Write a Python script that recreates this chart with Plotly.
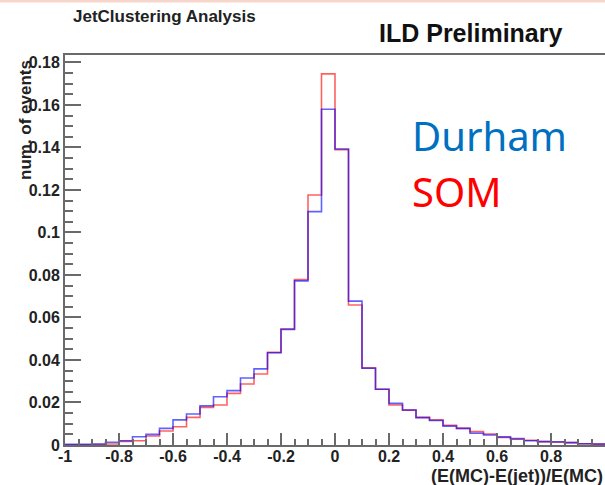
import plotly.graph_objects as go

# ---- data ----
bin_edges = [-1.0, -0.95, -0.9, -0.85, -0.8, -0.75, -0.7, -0.65, -0.6, -0.55,
             -0.5, -0.45, -0.4, -0.35, -0.3, -0.25, -0.2, -0.15, -0.1, -0.05,
             0.0, 0.05, 0.1, 0.15, 0.2, 0.25, 0.3, 0.35, 0.4, 0.45,
             0.5, 0.55, 0.6, 0.65, 0.7, 0.75, 0.8, 0.85, 0.9, 0.95, 1.0]

durham = [0.0003, 0.0003, 0.0005, 0.0013, 0.0020, 0.0039, 0.0050, 0.0078, 0.0118, 0.0146,
          0.0184, 0.0227, 0.0256, 0.0315, 0.0358, 0.0434, 0.0544, 0.0772, 0.1098, 0.1580,
          0.1393, 0.0677, 0.0361, 0.0262, 0.0196, 0.0165, 0.0129, 0.0115, 0.0089, 0.0078,
          0.0055, 0.0047, 0.0038, 0.0030, 0.0020, 0.0016, 0.0015, 0.0011, 0.0006, 0.0005]

som = [0.0001, 0.0001, 0.0002, 0.0005, 0.0017, 0.0020, 0.0042, 0.0066, 0.0086, 0.0130,
       0.0177, 0.0188, 0.0243, 0.0287, 0.0334, 0.0436, 0.0546, 0.0778, 0.1176, 0.1746,
       0.1390, 0.0659, 0.0363, 0.0262, 0.0188, 0.0164, 0.0130, 0.0118, 0.0093, 0.0078,
       0.0063, 0.0052, 0.0035, 0.0027, 0.0022, 0.0016, 0.0013, 0.0011, 0.0006, 0.0004]

x_tick_vals = [-1, -0.8, -0.6, -0.4, -0.2, 0, 0.2, 0.4, 0.6, 0.8, 1]
x_tick_text = ["-1", "-0.8", "-0.6", "-0.4", "-0.2", "0", "0.2", "0.4", "0.6", "0.8", "1"]
y_tick_vals = [0, 0.02, 0.04, 0.06, 0.08, 0.1, 0.12, 0.14, 0.16, 0.18]
y_tick_text = ["0", "0.02", "0.04", "0.06", "0.08", "0.1", "0.12", "0.14", "0.16", "0.18"]

FONT = "Liberation Sans"
AXC = "#6a6a6a"

fig = go.Figure()
fig.add_trace(go.Scatter(x=bin_edges, y=som + [som[-1]], mode="lines",
                         line=dict(shape="hv", color="rgba(255,0,0,0.62)", width=1.6),
                         name="SOM", showlegend=False, hoverinfo="skip"))
fig.add_trace(go.Scatter(x=bin_edges, y=durham + [durham[-1]], mode="lines",
                         line=dict(shape="hv", color="rgba(0,0,255,0.62)", width=1.6),
                         name="Durham", showlegend=False, hoverinfo="skip"))

fig.update_layout(
    width=605, height=485,
    margin=dict(l=65, r=0, t=55, b=40),
    paper_bgcolor="white", plot_bgcolor="white",
    font=dict(family=FONT, color="#222"),
    xaxis=dict(range=[-1, 1], showgrid=False, zeroline=False,
               showline=True, linecolor=AXC, linewidth=2, mirror=True,
               ticks="inside", ticklen=12, tickwidth=1.5, tickcolor=AXC,
               tickvals=x_tick_vals, ticktext=x_tick_text, ticklabelstandoff=-4,
               tickfont=dict(family=FONT, size=16, weight="bold", color="#222"),
               minor=dict(ticks="inside", ticklen=6, tickwidth=1.5, tickcolor=AXC,
                          dtick=0.05, tick0=0, showgrid=False)),
    yaxis=dict(range=[0, 0.1835], showgrid=False, zeroline=False,
               showline=True, linecolor=AXC, linewidth=2, mirror=False,
               ticks="inside", ticklen=16, tickwidth=1.5, tickcolor=AXC,
               tickvals=y_tick_vals, ticktext=y_tick_text,
               tickfont=dict(family=FONT, size=16, weight="bold", color="#222"),
               minor=dict(ticks="inside", ticklen=8, tickwidth=1.5, tickcolor=AXC,
                          dtick=0.005, tick0=0, showgrid=False)),
)

# pink slide strip at very top
fig.add_shape(type="rect", xref="paper", yref="paper",
              x0=-0.2, x1=1.0, y0=(445 - 2.5) / 390, y1=(445 + 0) / 390,
              line=dict(width=0), fillcolor="#f9d6cc", layer="above")

anns = [
    dict(text="JetClustering Analysis", x=(71 - 65) / 540, y=(445 - 17) / 390,
         xanchor="left", yanchor="middle",
         font=dict(family=FONT, size=17, weight="bold", color="#222")),
    dict(text="ILD Preliminary", x=(377 - 65) / 540, y=(445 - 33) / 390,
         xanchor="left", yanchor="middle",
         font=dict(family=FONT, size=25, weight="bold", color="#111")),
    dict(text="Durham", x=(410 - 65) / 540, y=(445 - 135) / 390,
         xanchor="left", yanchor="middle",
         font=dict(family="Noto Sans", size=40, color="#0070C0")),
    dict(text="SOM", x=(410 - 65) / 540, y=(445 - 191) / 390,
         xanchor="left", yanchor="middle",
         font=dict(family="Noto Sans", size=40, color="#FF0000")),
    dict(text="num. of events", x=(26 - 65) / 540, y=(445 - 120) / 390,
         xanchor="center", yanchor="middle", textangle=-90,
         font=dict(family=FONT, size=17, weight="bold", color="#222")),
    dict(text="(E(MC)-E(jet))/E(MC)", x=1.0, y=(445 - 476) / 390,
         xanchor="right", yanchor="middle",
         font=dict(family=FONT, size=18, weight="bold", color="#222")),
]
for a in anns:
    fig.add_annotation(xref="paper", yref="paper", showarrow=False, **a)

fig.write_html("out.html")
